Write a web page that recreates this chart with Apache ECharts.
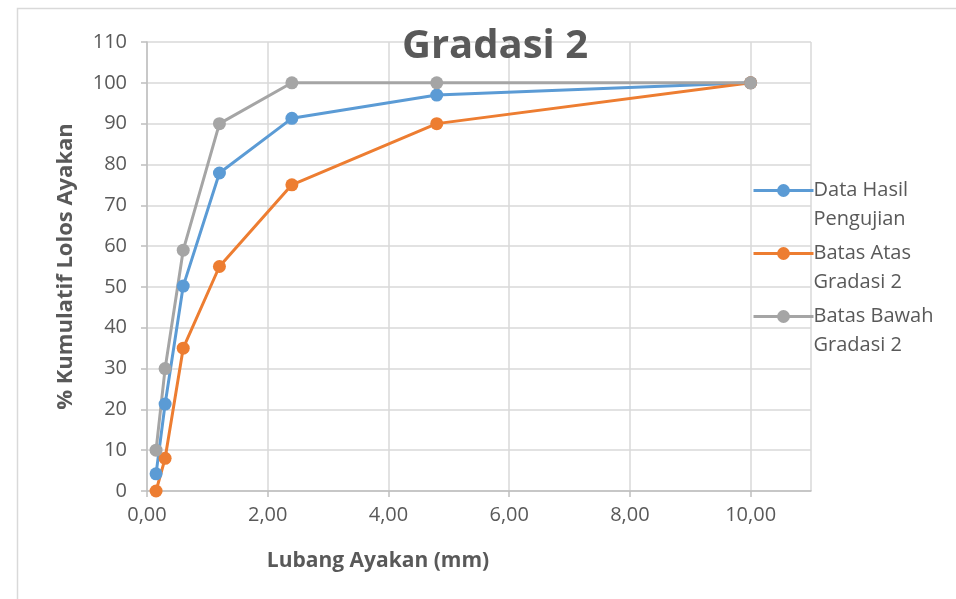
<!DOCTYPE html>
<html>
<head>
<meta charset="utf-8">
<script src="https://cdn.jsdelivr.net/npm/echarts@6/dist/echarts.min.js"></script>
<style>html,body{margin:0;padding:0;background:#fff}#c{width:956px;height:599px}</style>
</head>
<body>
<div id="c"></div>
<script>
const sieveSizes = [0.15, 0.3, 0.6, 1.2, 2.4, 4.8, 10];
const dataHasil = [4.2, 21.3, 50.2, 77.9, 91.3, 97.0, 100];
const batasAtas = [0, 8, 35, 55, 75, 90, 100];
const batasBawah = [10, 30, 59, 90, 100, 100, 100];
const seriesNames = ['Data Hasil Pengujian', 'Batas Atas Gradasi 2', 'Batas Bawah Gradasi 2'];
const legendLabels = {
  'Data Hasil Pengujian': 'Data Hasil\nPengujian',
  'Batas Atas Gradasi 2': 'Batas Atas\nGradasi 2',
  'Batas Bawah Gradasi 2': 'Batas Bawah\nGradasi 2'
};
const colors = ['#5B9BD5', '#ED7D31', '#A5A5A5'];
const values = [dataHasil, batasAtas, batasBawah];
const FONT = 'Open Sans';
const TXT = '#595959';

const chart = echarts.init(document.getElementById('c'), null, {renderer: 'canvas'});
chart.setOption({
  animation: false,
  backgroundColor: '#fff',
  color: colors,
  graphic: [{
    type: 'rect', left: 15, top: 6, z: -1,
    shape: {width: 960, height: 620},
    style: {fill: 'none', stroke: '#D9D9D9', lineWidth: 1.5}
  }],
  title: {
    text: 'Gradasi 2', left: 490, top: 22, textAlign: 'center',
    textStyle: {fontFamily: FONT, fontSize: 40, fontWeight: 'bold', color: TXT}
  },
  legend: {
    orient: 'vertical', left: 747, top: 142,
    itemWidth: 60, itemHeight: 16, itemGap: -24,
    lineStyle: {width: 3},
    formatter: n => '\n' + legendLabels[n],
    textStyle: {fontFamily: FONT, fontSize: 20, color: TXT, lineHeight: 29, padding: [0, 0, 0, -5]},
    data: seriesNames
  },
  grid: {left: 147, right: 145, top: 42, bottom: 108},
  xAxis: {
    type: 'value', min: 0, max: 11, interval: 2,
    name: 'Lubang Ayakan (mm)', nameLocation: 'middle', nameGap: 60,
    nameTextStyle: {fontFamily: FONT, fontSize: 21, fontWeight: 'bold', color: TXT, padding: [0, 202, 0, 0]},
    axisLine: {show: true, lineStyle: {color: '#BFBFBF', width: 1.5}},
    axisTick: {show: true, length: 6, lineStyle: {color: '#BFBFBF', width: 1.5}},
    axisLabel: {fontFamily: FONT, fontSize: 20, color: TXT, margin: 14, showMaxLabel: false,
      formatter: v => v.toFixed(2).replace('.', ',')},
    splitLine: {show: true, lineStyle: {color: '#D9D9D9', width: 1.5}}
  },
  yAxis: {
    type: 'value', min: 0, max: 110, interval: 10,
    name: '% Kumulatif Lolos Ayakan', nameLocation: 'middle', nameGap: 70, nameRotate: 90,
    nameTextStyle: {fontFamily: FONT, fontSize: 22, fontWeight: 'bold', color: TXT},
    axisLine: {show: true, lineStyle: {color: '#BFBFBF', width: 1.5}},
    axisTick: {show: true, length: 6, lineStyle: {color: '#BFBFBF', width: 1.5}},
    axisLabel: {fontFamily: FONT, fontSize: 20, color: TXT, margin: 20},
    splitLine: {show: true, lineStyle: {color: '#D9D9D9', width: 1.5}}
  },
  series: seriesNames.map((n, i) => ({
    name: n, type: 'line',
    data: sieveSizes.map((x, j) => [x, values[i][j]]),
    symbol: 'circle', symbolSize: 13,
    lineStyle: {width: 3, color: colors[i]},
    itemStyle: {color: colors[i]}
  }))
});
</script>
</body>
</html>
